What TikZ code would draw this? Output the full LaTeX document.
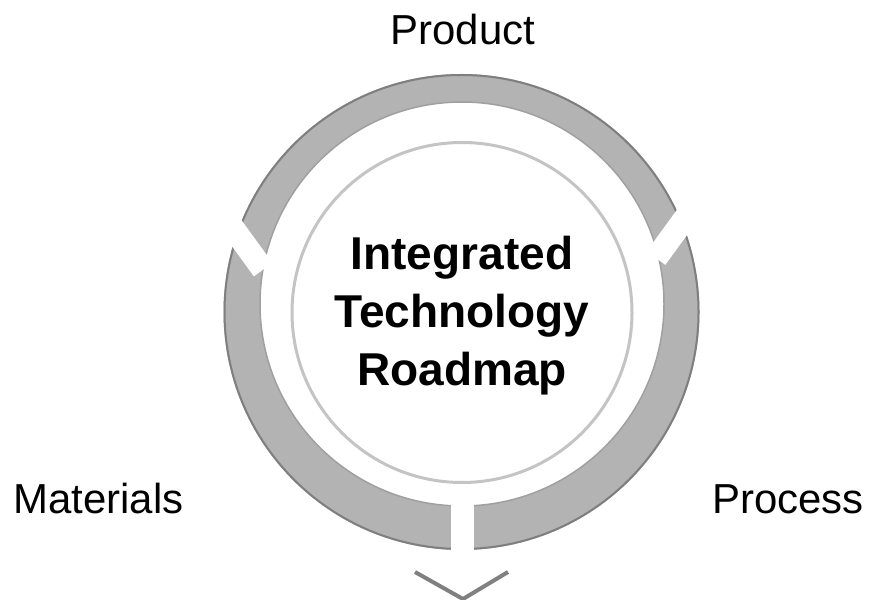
\documentclass[tikz,border=0pt]{standalone}
\usepackage{fontspec}
\setmainfont{Liberation Sans}
\usetikzlibrary{positioning}

\definecolor{ringfill}{HTML}{B3B3B3}
\definecolor{ringrim}{HTML}{7F7F7F}
\definecolor{ringedge}{HTML}{A0A0A0}
\definecolor{hubline}{HTML}{C4C4C4}
\definecolor{chevgray}{HTML}{808080}

\begin{document}
\begin{tikzpicture}[x=0.03cm, y=-0.03cm,
  label text/.style={font=\fontsize{35.8}{43}\selectfont, inner sep=0pt, anchor=base},
  title text/.style={font=\fontsize{39.3}{49.5}\selectfont\bfseries, align=center, inner sep=0pt},
  gap cut/.style={white, line width=0.69cm}]

  \useasboundingbox (0,0) rectangle (872,600);

  % Ring of three segments
  \fill[ringfill, even odd rule] (461.5,312) circle[radius=238] (462,304) circle[radius=202];
  \draw[ringrim, line width=0.06cm] (461.5,312) circle[radius=237];
  \draw[ringedge, line width=0.045cm] (462,304) circle[radius=202];

  % Gaps between the segments
  \draw[gap cut] (462.8,492) -- (462.8,560);
  \draw[gap cut] (216.1,204.9) -- (263.2,269.6);
  \draw[gap cut] (703.1,193.4) -- (656,258.1);

  % Hub
  \draw[hubline, line width=0.09cm, fill=white] (462,312.5) circle[radius=170];
  \node[title text] (hub) at (462,316) {Integrated\\Technology\\Roadmap};

  % Segment labels
  \node[label text] (product) at (463,45) {Product};
  \node[label text] (materials) at (98.5,513) {Materials};
  \node[label text] (process) at (788,513) {Process};

  % Chevron below the ring
  \coordinate (chev left) at (415,572);
  \coordinate (chev tip) at (463,599);
  \coordinate (chev right) at (508,572);
  \draw[chevgray, line width=0.12cm] (chev left) -- (chev tip) -- (chev right);

\end{tikzpicture}
\end{document}
